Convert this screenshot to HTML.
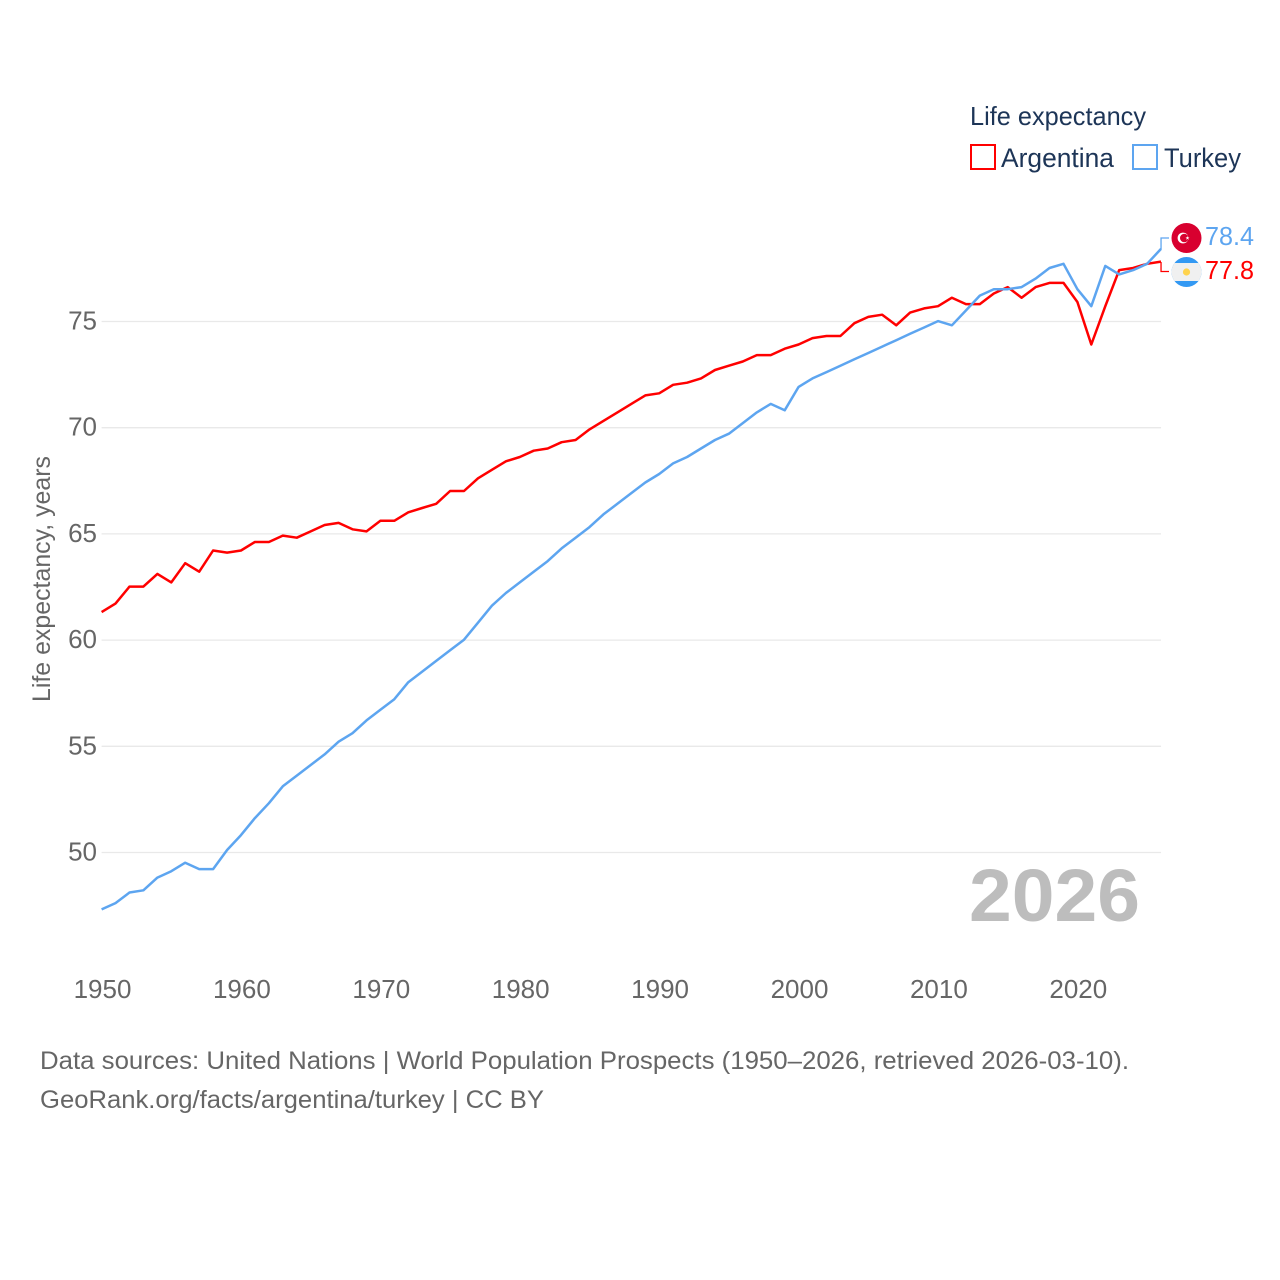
<!DOCTYPE html>
<html>
<head>
<meta charset="utf-8">
<title>Life expectancy: Argentina and Turkey</title>
<style>
html,body{margin:0;padding:0;background:#fff;}
svg{display:block;}
text{font-family:"Liberation Sans",sans-serif;}
</style>
</head>
<body>
<svg id="chart" width="1280" height="1280" viewBox="0 0 1280 1280" xmlns="http://www.w3.org/2000/svg">
  <rect width="1280" height="1280" fill="#ffffff"/>
  <g id="grid"></g>
  <g id="yticks"></g>
  <g id="xticks"></g>
  <text transform="translate(50,579) rotate(-90)" text-anchor="middle" font-size="25" fill="#666666" textLength="246" lengthAdjust="spacingAndGlyphs">Life expectancy, years</text>
  <g id="series"></g>

  <g>
    <text x="970" y="125" font-size="26" fill="#1d3557" textLength="176" lengthAdjust="spacingAndGlyphs">Life expectancy</text>
    <g>
      <rect x="971" y="145" width="24" height="24" fill="#ffffff" stroke="#ff0000" stroke-width="2"/>
      <text x="1001" y="167" font-size="27" fill="#1d3557" textLength="113" lengthAdjust="spacingAndGlyphs">Argentina</text>
    </g>
    <g>
      <rect x="1133" y="145" width="24" height="24" fill="#ffffff" stroke="#5da5f0" stroke-width="2"/>
      <text x="1164" y="167" font-size="27" fill="#1d3557" textLength="77" lengthAdjust="spacingAndGlyphs">Turkey</text>
    </g>
  </g>

  <g>
    <circle cx="1186.5" cy="238" r="15" fill="#d8002f"/>
    <circle cx="1183" cy="238" r="5.4" fill="#ffffff"/>
    <circle cx="1184.3" cy="238" r="4.3" fill="#d8002f"/>
    <polygon points="1187.5,236 1188,237.4 1189.5,237.4 1188.3,238.3 1188.8,239.8 1187.5,238.9 1186.2,239.8 1186.7,238.3 1185.5,237.4 1187,237.4" fill="#ffffff"/>
  </g>
  <g>
    <clipPath id="ar-clip"><circle cx="1186.5" cy="272" r="15"/></clipPath>
    <g clip-path="url(#ar-clip)">
      <rect x="1171" y="257" width="31" height="31" fill="#3399f3"/>
      <rect x="1171" y="263" width="31" height="18" fill="#f0f0f0"/>
    </g>
    <circle cx="1186.5" cy="272" r="3.6" fill="#ffd34d"/>
  </g>

  <text id="year" x="969" y="921" font-size="74" font-weight="bold" fill="#bdbdbd" textLength="171" lengthAdjust="spacingAndGlyphs">2026</text>

  <g>
    <text x="40" y="1069" font-size="25" fill="#666666" textLength="1089" lengthAdjust="spacingAndGlyphs">Data sources: United Nations | World Population Prospects (1950–2026, retrieved 2026-03-10).</text>
    <text x="40" y="1108" font-size="25" fill="#666666" textLength="504" lengthAdjust="spacingAndGlyphs">GeoRank.org/facts/argentina/turkey | CC BY</text>
  </g>
</svg>
<script>
var startYear = 1950;
var xTickLabels = [1950, 1960, 1970, 1980, 1990, 2000, 2010, 2020];
var yTickLabels = [50, 55, 60, 65, 70, 75];
var argentinaValues = [61.3,61.7,62.5,62.5,63.1,62.7,63.6,63.2,64.2,64.1,64.2,64.6,64.6,64.9,64.8,65.1,65.4,65.5,65.2,65.1,65.6,65.6,66.0,66.2,66.4,67.0,67.0,67.6,68.0,68.4,68.6,68.9,69.0,69.3,69.4,69.9,70.3,70.7,71.1,71.5,71.6,72.0,72.1,72.3,72.7,72.9,73.1,73.4,73.4,73.7,73.9,74.2,74.3,74.3,74.9,75.2,75.3,74.8,75.4,75.6,75.7,76.1,75.8,75.8,76.3,76.6,76.1,76.6,76.8,76.8,75.9,73.9,75.7,77.4,77.5,77.7,77.8];
var turkeyValues = [47.3,47.6,48.1,48.2,48.8,49.1,49.5,49.2,49.2,50.1,50.8,51.6,52.3,53.1,53.6,54.1,54.6,55.2,55.6,56.2,56.7,57.2,58.0,58.5,59.0,59.5,60.0,60.8,61.6,62.2,62.7,63.2,63.7,64.3,64.8,65.3,65.9,66.4,66.9,67.4,67.8,68.3,68.6,69.0,69.4,69.7,70.2,70.7,71.1,70.8,71.9,72.3,72.6,72.9,73.2,73.5,73.8,74.1,74.4,74.7,75.0,74.8,75.5,76.2,76.5,76.5,76.6,77.0,77.5,77.7,76.5,75.7,77.6,77.2,77.4,77.7,78.4];
var argentinaLabel = "77.8";
var turkeyLabel = "78.4";

var SVG_NS = "http://www.w3.org/2000/svg";
function xScale(year) { return 101.6 + (year - 1950) * 13.94; }
function yScale(value) { return 321.5 + (75 - value) * 21.24; }
function toPoints(values) {
  return values.map(function (v, i) {
    return xScale(startYear + i).toFixed(1) + "," + (yScale(v) - 0.4).toFixed(1);
  }).join(" ");
}

var grid = document.getElementById("grid");
var yticks = document.getElementById("yticks");
var xticks = document.getElementById("xticks");
var series = document.getElementById("series");
var lastYear = startYear + argentinaValues.length - 1;

yTickLabels.forEach(function (t) {
  var line = document.createElementNS(SVG_NS, "line");
  
  
  line.setAttribute("x1", xScale(1950));
  line.setAttribute("x2", xScale(2026));
  line.setAttribute("y1", yScale(t));
  line.setAttribute("y2", yScale(t));
  line.setAttribute("stroke", "#e9e9e9");
  line.setAttribute("stroke-width", "1.3");
  grid.appendChild(line);

  var label = document.createElementNS(SVG_NS, "text");
  
  
  label.setAttribute("x", 97);
  label.setAttribute("y", yScale(t) + 8);
  label.setAttribute("text-anchor", "end");
  label.setAttribute("font-size", "26");
  label.setAttribute("fill", "#666666");
  label.textContent = t;
  yticks.appendChild(label);
});

xTickLabels.forEach(function (t) {
  var label = document.createElementNS(SVG_NS, "text");
  
  
  label.setAttribute("x", xScale(t) + 0.9);
  label.setAttribute("y", 998);
  label.setAttribute("text-anchor", "middle");
  label.setAttribute("font-size", "26");
  label.setAttribute("fill", "#666666");
  label.textContent = t;
  xticks.appendChild(label);
});

var argentinaLine = document.createElementNS(SVG_NS, "polyline");


argentinaLine.setAttribute("points", toPoints(argentinaValues));
argentinaLine.setAttribute("fill", "none");
argentinaLine.setAttribute("stroke", "#ff0000");
argentinaLine.setAttribute("stroke-width", "2.5");
argentinaLine.setAttribute("stroke-linejoin", "round");
series.appendChild(argentinaLine);

var turkeyLine = document.createElementNS(SVG_NS, "polyline");


turkeyLine.setAttribute("points", toPoints(turkeyValues));
turkeyLine.setAttribute("fill", "none");
turkeyLine.setAttribute("stroke", "#5da5f0");
turkeyLine.setAttribute("stroke-width", "2.5");
turkeyLine.setAttribute("stroke-linejoin", "round");
series.appendChild(turkeyLine);

var turkeyEndY = yScale(turkeyValues[turkeyValues.length - 1]);
var argentinaEndY = yScale(argentinaValues[argentinaValues.length - 1]);
var endX = xScale(lastYear);

var turkeyConnector = document.createElementNS(SVG_NS, "polyline");


turkeyConnector.setAttribute("points", endX + "," + turkeyEndY + " " + endX + ",238 1169,238");
turkeyConnector.setAttribute("fill", "none");
turkeyConnector.setAttribute("stroke", "#5da5f0");
turkeyConnector.setAttribute("stroke-width", "1.3");
series.appendChild(turkeyConnector);

var argentinaConnector = document.createElementNS(SVG_NS, "polyline");


argentinaConnector.setAttribute("points", endX + "," + argentinaEndY + " " + endX + ",271.5 1169,271.5");
argentinaConnector.setAttribute("fill", "none");
argentinaConnector.setAttribute("stroke", "#ff0000");
argentinaConnector.setAttribute("stroke-width", "1.3");
series.appendChild(argentinaConnector);

var turkeyValueLabel = document.createElementNS(SVG_NS, "text");


turkeyValueLabel.setAttribute("x", 1205);
turkeyValueLabel.setAttribute("y", 245);
turkeyValueLabel.setAttribute("font-size", "26");
turkeyValueLabel.setAttribute("fill", "#5da5f0");
turkeyValueLabel.setAttribute("textLength", "49");
turkeyValueLabel.setAttribute("lengthAdjust", "spacingAndGlyphs");
turkeyValueLabel.textContent = turkeyLabel;
series.appendChild(turkeyValueLabel);

var argentinaValueLabel = document.createElementNS(SVG_NS, "text");


argentinaValueLabel.setAttribute("x", 1205);
argentinaValueLabel.setAttribute("y", 279);
argentinaValueLabel.setAttribute("font-size", "26");
argentinaValueLabel.setAttribute("fill", "#ff0000");
argentinaValueLabel.setAttribute("textLength", "49");
argentinaValueLabel.setAttribute("lengthAdjust", "spacingAndGlyphs");
argentinaValueLabel.textContent = argentinaLabel;
series.appendChild(argentinaValueLabel);
</script>
</body>
</html>
